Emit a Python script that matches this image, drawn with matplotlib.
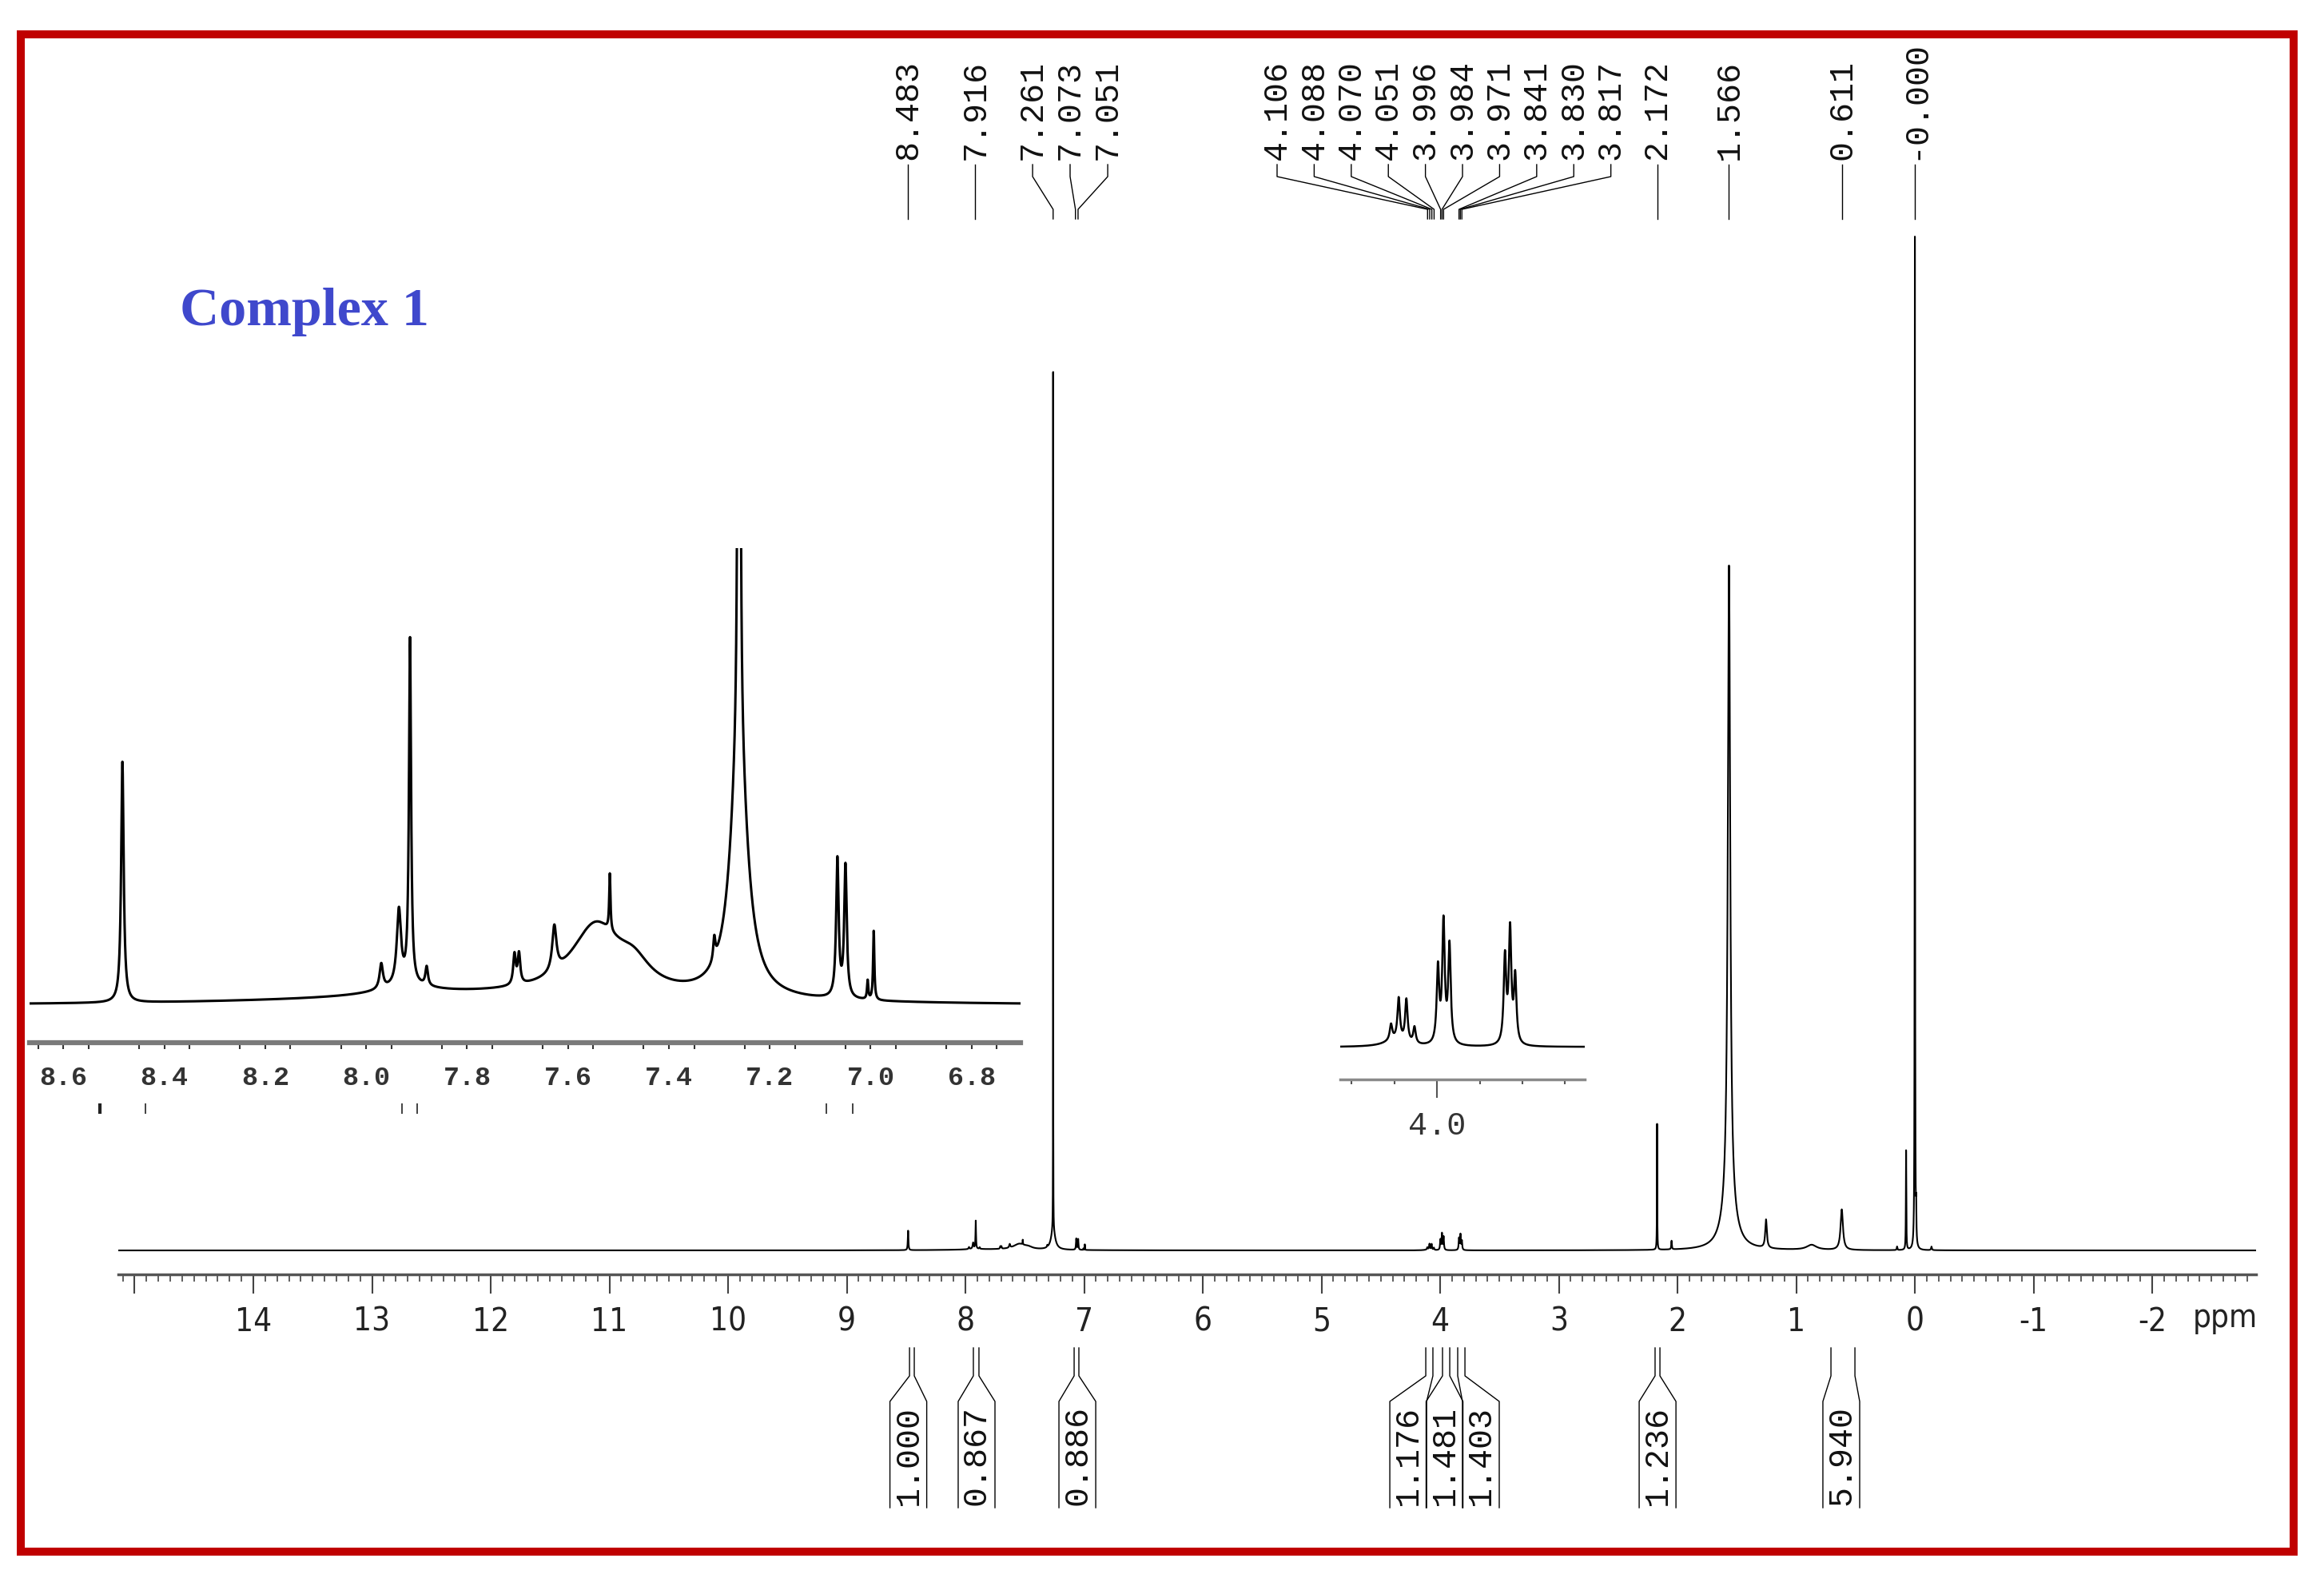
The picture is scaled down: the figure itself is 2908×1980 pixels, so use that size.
import matplotlib
matplotlib.use("Agg")
import matplotlib.pyplot as plt
import matplotlib.transforms as mtransforms
from matplotlib.patches import Rectangle
from matplotlib.ticker import FixedLocator
import numpy as np

W, H = 2908, 1981

# peak table: shift (ppm), height (TMS ~ 100), half width (ppm)
peak_ppm = [8.483, 7.970, 7.935, 7.913, 7.880, 7.706, 7.697, 7.627, 7.545, 7.470, 7.517,
            7.310, 7.261, 7.261, 7.066, 7.050, 7.006, 6.994, 7.750, 7.920,
            4.108, 4.090, 4.072, 4.053, 4.100, 3.998, 3.985, 3.971, 3.841, 3.829, 3.817,
            2.172, 2.050, 1.566, 1.566, 1.254, 0.870, 0.616, 0.150, 0.074, 0.000, -0.011, -0.140]
peak_height = [1.92, 0.20, 0.60, 2.75, 0.15, 0.24, 0.24, 0.36, 0.55, 0.18, 0.45,
               0.18, 84.5, 2.0, 1.10, 1.05, 0.15, 0.55, 0.08, 0.07,
               0.21, 0.56, 0.57, 0.22, 0.08, 1.00, 1.60, 1.30, 1.15, 1.50, 0.88,
               12.4, 0.85, 63.0, 4.5, 2.8, 0.5, 4.0, 0.35, 9.8, 99.8, 3.0, 0.35]
peak_hwhm = [0.0030, 0.0040, 0.0050, 0.0025, 0.0030, 0.0030, 0.0030, 0.0050, 0.060, 0.040, 0.0015,
             0.0025, 0.0006, 0.020, 0.0030, 0.0030, 0.0015, 0.0015, 0.45, 0.07,
             0.0035, 0.0035, 0.0035, 0.0035, 0.03, 0.0035, 0.0035, 0.0035, 0.0035, 0.0035, 0.0035,
             0.0015, 0.0030, 0.012, 0.06, 0.008, 0.05, 0.012, 0.003, 0.002, 0.0018, 0.002, 0.004]

# picked shifts printed above the spectrum
shift_labels = ["8.483", "7.916", "7.261", "7.073", "7.051",
                "4.106", "4.088", "4.070", "4.051", "3.996", "3.984", "3.971", "3.841", "3.830", "3.817",
                "2.172", "1.566", "0.611", "-0.000"]

# integrals below the axis
integral_values = ["1.000", "0.867", "0.886", "1.176", "1.481", "1.403", "1.236", "5.940"]
integral_ranges = [(8.471, 8.431), (7.933, 7.886), (7.084, 7.044), (4.121, 4.061),
                   (3.980, 3.919), (3.852, 3.791), (2.189, 2.148), (0.707, 0.505)]

# axis ticks
main_ticks = list(range(15, -3, -1))
inset_ticks = [8.6, 8.4, 8.2, 8.0, 7.8, 7.6, 7.4, 7.2, 7.0, 6.8]
inset2_minor = [4.2, 4.1, 3.9, 3.8, 3.7]
pick_marks = [8.527, 8.437, 7.929, 7.899, 7.088, 7.036]

# layout: where the spread-out labels and integral boxes sit (ppm on the main scale)
label_x = [8.483, 7.916, 7.434, 7.118, 6.801] + [5.374 - 0.3125 * i for i in range(10)] \
    + [2.172, 1.566, 0.611, 0.0]
box_centre = [8.481, 7.906, 7.057, 4.269, 3.963, 3.657, 2.168, 0.620]
BOX_HALF = 0.155

MONO = ["Liberation Mono", "DejaVu Sans Mono"]
NARROW = ["Liberation Sans Narrow", "DejaVu Sans"]

plt.rcParams["axes.unicode_minus"] = False


def fig_rect(x0, y0, x1, y1):
    return [x0 / W, 1 - y1 / H, (x1 - x0) / W, (y1 - y0) / H]


def fy(py):
    return 1 - py / H


def spectrum(x):
    y = np.zeros_like(x)
    for c, h, g in zip(peak_ppm, peak_height, peak_hwhm):
        y += h * g ** 2 / ((x - c) ** 2 + g ** 2)
    return y


ppm = np.linspace(15.2, -2.9, 181001)
inten = spectrum(ppm)

fig = plt.figure(figsize=(W / 100, H / 100), dpi=100)
fig.patch.set_facecolor("white")

# ---- main spectrum ----
ax = fig.add_axes(fig_rect(148, 100, 2823, 1596))
ax.set_facecolor("none")
ax.plot(ppm, inten, color="black", lw=1.5)
ax.set_xlim(15.138, -2.875)
ax.set_ylim(-(1596 - 1566) / 12.7, (1566 - 100) / 12.7)
for s in ["top", "left", "right"]:
    ax.spines[s].set_visible(False)
ax.spines["bottom"].set_color("#555555")
ax.spines["bottom"].set_linewidth(2.5)
ax.set_yticks([])
ax.set_xticks(main_ticks)
ax.set_xticklabels(["" if t == 15 else str(t) for t in main_ticks], fontfamily=NARROW,
                   fontsize=29, fontstretch="condensed")
ax.xaxis.set_minor_locator(FixedLocator(np.arange(-2.8, 15.15, 0.1)))
ax.tick_params(axis="x", which="major", direction="out", length=17, width=1.5,
               color="#444444", pad=11, labelcolor="#222222")
ax.tick_params(axis="x", which="minor", direction="out", length=6.5, width=1.2, color="#444444")
fig.text(2784 / W, fy(1650), "ppm", ha="center", va="center", fontsize=29,
         family=NARROW, stretch="condensed", color="#222222")

trans = mtransforms.blended_transform_factory(ax.transData, fig.transFigure)

# shift labels with connectors
for txt, lx in zip(shift_labels, label_x):
    px = float(txt)
    ax.text(lx, fy(200), txt, transform=trans, rotation=90, ha="center", va="bottom",
            family=MONO, fontsize=30, color="#111111")
    ax.plot([lx, lx, px, px], [fy(207), fy(222), fy(263), fy(275)], transform=trans,
            color="black", lw=1.0, clip_on=False)

# integrals
for val, (a, b), c in zip(integral_values, integral_ranges, box_centre):
    left, right = c + BOX_HALF, c - BOX_HALF
    ax.plot([a, a, left, left], [fy(1688), fy(1723), fy(1755), fy(1888)], transform=trans,
            color="black", lw=1.0, clip_on=False)
    ax.plot([b, b, right, right], [fy(1688), fy(1723), fy(1755), fy(1888)], transform=trans,
            color="black", lw=1.0, clip_on=False)
    ax.text(c, fy(1822), val, transform=trans, rotation=90, ha="center", va="center",
            family=MONO, fontsize=30, color="#111111")

# ---- aromatic expansion ----
ax1 = fig.add_axes(fig_rect(37, 687, 1277, 1306))
ax1.set_facecolor("none")
ax1.plot(ppm, inten, color="black", lw=2.2)
ax1.set_xlim(8.667, 6.703)
ax1.set_ylim(-(1306 - 1260) / 157, (1260 - 687) / 157)
for s in ["top", "left", "right"]:
    ax1.spines[s].set_visible(False)
ax1.spines["bottom"].set_color("#7a7a7a")
ax1.spines["bottom"].set_linewidth(4.5)
ax1.set_yticks([])
ax1.set_xticks(inset_ticks)
ax1.set_xticklabels([f"{t:.1f}" for t in inset_ticks], fontfamily=MONO, fontsize=24,
                    fontweight="bold")
ax1.xaxis.set_minor_locator(FixedLocator(np.arange(6.75, 8.66, 0.1)))
ax1.tick_params(axis="x", which="both", direction="out", length=6, width=1.5,
                color="#333333", pad=14, labelcolor="#333333")
trans1 = mtransforms.blended_transform_factory(ax1.transData, fig.transFigure)
ax1.vlines(pick_marks, fy(1395), fy(1382), transform=trans1, colors="#222222",
           linewidths=[3, 1.2, 1.2, 1.2, 1.2, 1.2], clip_on=False)

# ---- 4 ppm expansion ----
ax2 = fig.add_axes(fig_rect(1677, 1100, 1983, 1352))
ax2.set_facecolor("none")
ax2.plot(ppm, inten, color="black", lw=1.8)
ax2.set_xlim(4.227, 3.654)
ax2.set_ylim(-40 / 94, 212 / 94)
for s in ["top", "left", "right"]:
    ax2.spines[s].set_visible(False)
ax2.spines["bottom"].set_color("#8a8a8a")
ax2.spines["bottom"].set_linewidth(2.5)
ax2.set_yticks([])
ax2.set_xticks([4.0])
ax2.set_xticklabels(["4.0"], fontfamily=MONO, fontsize=29)
ax2.xaxis.set_minor_locator(FixedLocator(inset2_minor))
ax2.tick_params(axis="x", which="major", direction="out", length=16.5, width=1.5,
                color="#555555", pad=11, labelcolor="#333333")
ax2.tick_params(axis="x", which="minor", direction="out", length=4.5, width=1.5, color="#555555")

# ---- title and frame ----
fig.text(225 / W, fy(407), "Complex 1", ha="left", va="baseline", fontsize=49,
         fontweight="bold", family=["Liberation Serif", "DejaVu Serif"], color="#3f48cc")
fig.add_artist(Rectangle((25.5 / W, fy(1942.5)), (2869.5 - 25.5) / W, (1942.5 - 43.5) / H,
                         transform=fig.transFigure, fill=False, edgecolor="#c00000",
                         linewidth=7.2))

fig.savefig("out.png", dpi=100)
